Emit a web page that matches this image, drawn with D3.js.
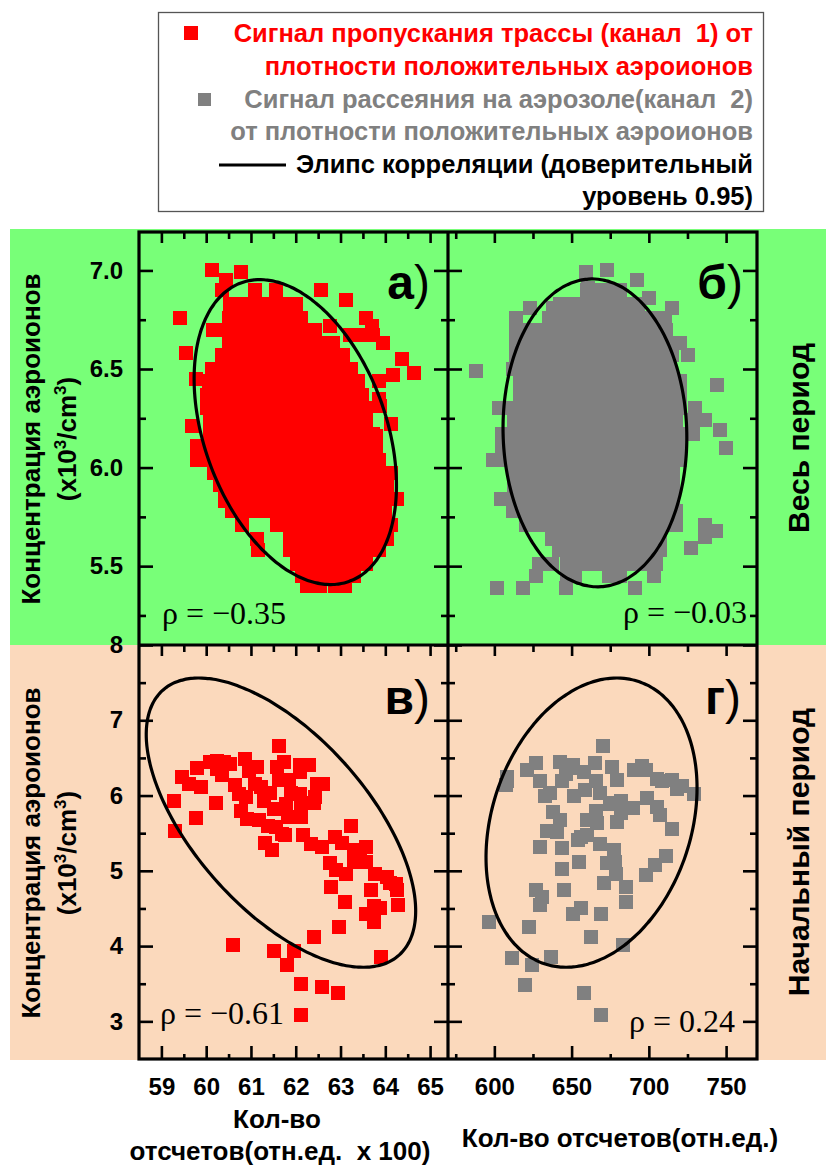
<!DOCTYPE html>
<html lang="ru">
<head>
<meta charset="UTF-8">
<title>Корреляция сигналов с плотностью аэроионов</title>
<script src="https://d3js.org/d3.v7.min.js"></script>
<style>
  body { margin: 0; background: #fff; }
  svg text { font-family: "Liberation Sans", Arial, sans-serif; }
  .rho { font-family: "Liberation Serif", "Times New Roman", serif; font-size: 32px; }
</style>
</head>
<body>
<svg id="chart" width="826" height="1167"></svg>
<script>
// ---- data ----
// panel а: dense cloud, each row = [y, x1, x2, ...]
const transAllRows = [
  [6.90, 61.10, 61.55],
  [6.83, 60.54, 60.83, 61.12, 61.41, 61.70, 62.01],
  [6.76, 60.51, 60.80, 61.10, 61.39, 61.68, 61.97, 62.12],
  [6.70, 60.16, 60.45, 60.74, 61.03, 61.32, 61.61, 61.90, 62.19, 62.44],
  [6.67, 63.22, 63.53, 63.73],
  [6.63, 60.51, 60.80, 61.10, 61.39, 61.68, 61.97, 62.26, 62.55, 62.84],
  [6.57, 60.36, 60.65, 60.94, 61.23, 61.52, 61.81, 62.10, 62.39, 62.68, 62.97, 63.06],
  [6.50, 60.13, 60.42, 60.71, 61.01, 61.30, 61.59, 61.88, 62.17, 62.46, 62.75, 63.04, 63.24],
  [6.44, 60.07, 60.36, 60.65, 60.94, 61.23, 61.52, 61.81, 62.10, 62.39, 62.68, 62.97, 63.27, 63.40],
  [6.37, 60.02, 60.31, 60.60, 60.89, 61.18, 61.48, 61.77, 62.06, 62.35, 62.64, 62.93, 63.22, 63.47],
  [6.30, 60.02, 60.31, 60.60, 60.89, 61.18, 61.48, 61.77, 62.06, 62.35, 62.64, 62.93, 63.22, 63.51, 63.56],
  [6.24, 60.09, 60.38, 60.67, 60.96, 61.25, 61.54, 61.83, 62.12, 62.41, 62.71, 63.00, 63.29, 63.58],
  [6.17, 60.09, 60.38, 60.67, 60.96, 61.25, 61.54, 61.83, 62.12, 62.41, 62.71, 63.00, 63.29, 63.58, 63.73],
  [6.11, 59.80, 60.09, 60.38, 60.67, 60.96, 61.25, 61.54, 61.83, 62.12, 62.41, 62.71, 63.00, 63.29, 63.58, 63.80],
  [6.04, 59.80, 60.09, 60.38, 60.67, 60.96, 61.25, 61.54, 61.83, 62.12, 62.41, 62.71, 63.00, 63.29, 63.58, 63.85],
  [5.97, 60.18, 60.47, 60.76, 61.05, 61.34, 61.63, 61.92, 62.21, 62.50, 62.80, 63.09, 63.38, 63.67, 63.96, 64.12],
  [5.91, 60.31, 60.60, 60.89, 61.18, 61.48, 61.77, 62.06, 62.35, 62.64, 62.93, 63.22, 63.51, 63.80, 64.03],
  [5.84, 60.42, 60.71, 61.01, 61.30, 61.59, 61.88, 62.17, 62.46, 62.75, 63.04, 63.33, 63.62, 63.91, 64.00],
  [5.78, 60.58, 60.87, 61.16, 61.45, 61.74, 62.03, 62.33, 62.62, 62.91, 63.20, 63.49, 63.78, 64.00],
  [5.71, 60.80, 61.59, 61.88, 62.17, 62.46, 62.75, 63.04, 63.33, 63.62, 63.91, 64.12],
  [5.64, 61.14, 61.88, 62.17, 62.46, 62.75, 63.04, 63.33, 63.62, 63.91, 64.03],
  [5.58, 61.16, 61.88, 62.17, 62.46, 62.75, 63.04, 63.33, 63.62, 63.85],
  [5.51, 62.03, 62.33, 62.62, 62.91, 63.20, 63.49, 63.58],
  [5.45, 62.15, 62.44, 62.73, 63.02, 63.29],
  [5.40, 62.26, 62.55, 62.88, 63.11]
];
const transAllOutliers = [
  [60.13, 7.00], [60.77, 6.99], [60.45, 6.95], [60.35, 6.90], [62.56, 6.90], [63.12, 6.85],
  [59.41, 6.76], [63.56, 6.76], [63.71, 6.72], [62.77, 6.72], [63.94, 6.63], [64.38, 6.55],
  [64.65, 6.48], [64.18, 6.47], [63.86, 6.44], [63.86, 6.35], [63.89, 6.31], [64.12, 6.22],
  [59.68, 6.21], [59.54, 6.58], [59.78, 6.45], [59.80, 6.09], [63.80, 6.16], [64.26, 5.84],
  [60.42, 5.83]
];

// panel б: dense cloud, each row = [y, x1, x2, ...]
const scatAllRows = [
  [6.90, 660.0, 668.4, 676.8, 680.0],
  [6.83, 642.5, 650.9, 659.3, 667.7, 676.1, 684.6, 693.0],
  [6.76, 614.0, 635.4, 643.8, 652.2, 660.6, 669.0, 677.4, 685.9, 694.3, 702.7, 704.6, 710.5],
  [6.70, 614.0, 622.4, 630.8, 639.3, 647.7, 656.1, 664.5, 672.9, 681.3, 689.7, 698.2, 706.6, 711.1],
  [6.63, 614.0, 622.4, 630.8, 639.3, 647.7, 656.1, 664.5, 672.9, 681.3, 689.7, 698.2, 706.6, 715.0, 720.2],
  [6.57, 614.0, 622.4, 630.8, 639.3, 647.7, 656.1, 664.5, 672.9, 681.3, 689.7, 698.2, 706.6, 715.0, 725.3],
  [6.50, 612.1, 620.5, 628.9, 637.3, 645.7, 654.1, 662.6, 671.0, 679.4, 687.8, 696.2, 704.6, 713.7],
  [6.44, 616.6, 625.0, 633.4, 641.8, 650.3, 658.7, 667.1, 675.5, 683.9, 692.3, 700.7, 709.2, 717.6, 720.2],
  [6.37, 616.6, 625.0, 633.4, 641.8, 650.3, 658.7, 667.1, 675.5, 683.9, 692.3, 700.7, 709.2, 717.6, 720.2],
  [6.30, 603.0, 611.4, 619.8, 628.3, 636.7, 645.1, 653.5, 661.9, 670.3, 678.7, 687.2, 695.6, 704.0, 712.4, 720.2, 729.9],
  [6.24, 612.7, 621.1, 629.5, 638.0, 646.4, 654.8, 663.2, 671.6, 680.0, 688.4, 696.9, 705.3, 713.7, 717.6, 728.6, 736.3],
  [6.17, 605.0, 613.4, 621.8, 630.2, 638.6, 647.0, 655.4, 663.9, 672.3, 680.7, 689.1, 697.5, 705.9, 714.3, 722.7, 728.6],
  [6.11, 605.0, 610.1, 618.5, 627.0, 635.4, 643.8, 652.2, 660.6, 669.0, 677.4, 685.9, 694.3, 702.7, 711.1, 720.2],
  [6.04, 599.1, 607.5, 616.0, 624.4, 632.8, 641.2, 649.6, 658.0, 666.4, 674.9, 683.3, 691.7, 700.1, 708.5, 716.9, 720.2],
  [5.97, 612.7, 621.1, 629.5, 638.0, 646.4, 654.8, 663.2, 671.6, 680.0, 688.4, 696.9, 705.3, 713.7, 715.6],
  [5.91, 612.7, 621.1, 629.5, 638.0, 646.4, 654.8, 663.2, 671.6, 680.0, 688.4, 696.9, 705.3, 713.7, 715.6],
  [5.84, 604.3, 612.7, 621.1, 629.5, 638.0, 646.4, 654.8, 663.2, 671.6, 680.0, 688.4, 696.9, 705.3, 713.7, 715.6],
  [5.78, 612.1, 620.5, 628.9, 637.3, 645.7, 654.1, 662.6, 671.0, 679.4, 687.8, 696.2, 704.6, 713.0, 717.6],
  [5.71, 620.5, 628.9, 637.3, 645.7, 654.1, 662.6, 671.0, 679.4, 687.8, 696.2, 704.6, 713.0, 717.6, 736.3],
  [5.64, 637.3, 645.7, 654.1, 662.6, 671.0, 679.4, 687.8, 696.2, 704.6, 707.2],
  [5.58, 641.8, 650.3, 658.7, 667.1, 675.5, 683.9, 692.3, 700.7, 707.2],
  [5.51, 628.9, 637.3, 647.0, 655.4, 663.9, 672.3, 680.7, 689.1, 697.5, 704.6],
  [5.45, 627.0, 647.0, 652.2, 674.2, 681.3, 703.3],
  [5.39, 601.7, 618.5, 646.4, 691.0]
];
const scatAllOutliers = [
  [659.3, 6.99], [672.9, 7.00], [692.3, 6.95], [660.6, 6.91], [681.3, 6.90], [700.1, 6.86],
  [715.0, 6.81], [623.1, 6.81], [638.0, 6.81], [588.1, 6.49], [744.1, 6.42], [749.9, 6.10],
  [746.0, 6.19], [743.5, 5.68], [736.3, 5.65], [727.3, 5.59]
];

// panel в: [x, y]
const transStartPoints = [
  [59.29, 5.93], [59.31, 5.53], [59.47, 6.25], [59.62, 6.16], [59.78, 5.70], [59.79, 6.36],
  [59.88, 6.11], [60.08, 6.44], [60.22, 5.90], [60.24, 6.46], [60.24, 6.35], [60.36, 6.27],
  [60.39, 6.45], [60.54, 6.42], [60.65, 6.14], [60.60, 4.01], [60.74, 6.02], [60.78, 5.80],
  [60.86, 6.48], [60.90, 5.98], [60.92, 5.69], [60.96, 6.33], [61.08, 6.16], [61.13, 6.38],
  [61.18, 5.68], [61.22, 6.11], [61.30, 5.93], [61.32, 5.37], [61.37, 5.60], [61.42, 6.03],
  [61.46, 5.28], [61.51, 3.93], [61.52, 5.82], [61.56, 5.58], [61.59, 6.38], [61.62, 6.66],
  [61.63, 6.20], [61.69, 5.49], [61.73, 6.45], [61.77, 5.47], [61.78, 5.89], [61.81, 3.75],
  [61.82, 5.72], [61.86, 6.20], [61.90, 6.04], [61.95, 3.93], [62.10, 6.02], [62.10, 6.31],
  [62.10, 6.40], [62.12, 5.72], [62.12, 5.87], [62.12, 3.49], [62.12, 3.09], [62.16, 5.48],
  [62.30, 6.40], [62.33, 5.36], [62.41, 5.90], [62.41, 4.12], [62.44, 5.98], [62.48, 6.16],
  [62.61, 6.16], [62.59, 5.32], [62.59, 3.46], [62.77, 5.11], [62.79, 4.79], [62.88, 5.45],
  [62.91, 5.01], [62.95, 3.38], [62.97, 4.26], [63.04, 5.37], [63.11, 4.59], [63.13, 4.96],
  [63.23, 5.60], [63.29, 5.28], [63.31, 5.12], [63.44, 5.15], [63.58, 5.32], [63.58, 5.12],
  [63.58, 4.43], [63.68, 4.75], [63.74, 4.53], [63.75, 4.32], [63.76, 4.96], [63.89, 4.51],
  [63.91, 3.86], [64.04, 4.92], [64.11, 4.84], [64.24, 4.83], [64.26, 4.75], [64.29, 4.54]
];

// panel г: [x, y]
const scatStartPoints = [
  [670.5, 6.66], [608.2, 6.25], [607.5, 6.14], [608.0, 6.19], [621.1, 6.34], [626.8, 6.43],
  [629.8, 6.19], [633.0, 6.00], [642.5, 6.45], [646.2, 6.29], [650.9, 6.40], [651.1, 6.36],
  [658.0, 6.31], [665.1, 6.43], [676.0, 6.38], [679.4, 6.20], [690.4, 6.34], [695.4, 6.39],
  [698.0, 6.34], [705.5, 6.22], [708.3, 6.19], [714.8, 6.20], [718.0, 6.09], [721.3, 6.13],
  [729.2, 6.02], [705.5, 5.85], [707.2, 5.74], [715.0, 5.56], [698.8, 5.97], [681.8, 5.93],
  [674.8, 5.89], [677.4, 5.90], [690.0, 5.83], [681.8, 5.77], [665.6, 5.80], [660.0, 5.67],
  [666.2, 5.63], [679.6, 5.65], [634.3, 5.53], [629.8, 5.32], [643.8, 5.30], [653.9, 5.41],
  [655.9, 5.45], [659.8, 5.47], [668.4, 5.36], [677.4, 5.27], [672.7, 5.11], [678.1, 5.12],
  [654.6, 5.12], [643.6, 5.03], [678.5, 4.96], [670.8, 4.84], [685.2, 4.79], [698.3, 4.95],
  [704.0, 5.08], [711.1, 5.20], [627.2, 4.75], [630.7, 4.65], [629.4, 4.54], [645.1, 4.75],
  [650.7, 4.42], [655.9, 4.50], [669.0, 4.43], [685.2, 4.58], [596.3, 4.32], [622.2, 4.26],
  [662.6, 4.12], [683.3, 4.01], [636.4, 3.86], [611.4, 3.84], [624.4, 3.75], [620.0, 3.48],
  [658.0, 3.38], [669.0, 3.09], [643.6, 6.19], [651.6, 5.99], [658.7, 6.07], [665.6, 6.19],
  [668.4, 6.03], [636.0, 6.03], [638.2, 5.78], [642.5, 5.68], [640.8, 5.52]
];

// ellipse parameters per panel: [mean x, mean y, sd x, sd y, correlation]
const ellipseParams = [
  [61.99, 6.18, 0.923, 0.316, -0.35],
  [665.1, 6.176, 24.3, 0.319, -0.03],
  [61.67, 5.64, 1.229, 0.785, -0.61],
  [662.9, 5.64, 27.9, 0.785, 0.24]
];
const rhoValues = [-0.35, -0.03, -0.61, 0.24];
const panelLetters = ["а", "б", "в", "г"];
const periodLabels = ["Весь период", "Начальный период"];

const ticksCountsMajor = [59, 60, 61, 62, 63, 64, 65];
const ticksCountsMinor = [59.5, 60.5, 61.5, 62.5, 63.5, 64.5];
const ticksScatMajor = [600, 650, 700, 750];
const ticksScatMinor = [575, 625, 675, 725];
const ticksConcAllMajor = [5.5, 6.0, 6.5, 7.0];
const ticksConcAllMinor = [5.25, 5.75, 6.25, 6.75];
const ticksConcStartMajor = [3, 4, 5, 6, 7, 8];
const ticksConcStartMinor = [3.5, 4.5, 5.5, 6.5, 7.5];

const legendLines = [
  ["Сигнал пропускания трассы (канал\u00A0 1) от", "#ff0000"],
  ["плотности положительных аэроионов", "#ff0000"],
  ["Сигнал рассеяния на аэрозоле(канал\u00A0 2)", "#808080"],
  ["от плотности положительных аэроионов", "#808080"],
  ["Элипс корреляции (доверительный", "#000"],
  ["уровень 0.95)", "#000"]
];

// ---- drawing ----
const svg = d3.select("#chart");
const RED = "#ff0000", GRAY = "#808080";

const xCounts = d3.scaleLinear().domain([58.5, 65.4]).range([139, 448]);
const xScat = d3.scaleLinear().domain([570, 770]).range([448, 757]);
const yAll = d3.scaleLinear().domain([5.1, 7.2]).range([645, 231]);
const yStart = d3.scaleLinear().domain([2.5, 8]).range([1059, 645]);

// background bands
svg.append("rect").attr("x", 10).attr("y", 229).attr("width", 816).attr("height", 416).attr("fill", "#78ff78");
svg.append("rect").attr("x", 10).attr("y", 645).attr("width", 816).attr("height", 415).attr("fill", "#fbd9bc");

const rowsToPoints = rows => rows.flatMap(r => r.slice(1).map(x => [x, r[0]]));

const panels = [
  { x: xCounts, y: yAll, color: RED, pts: rowsToPoints(transAllRows).concat(transAllOutliers),
    letterX: 430, letterY: 299, rhoX: 162, rhoY: 624, rhoAnchor: "start" },
  { x: xScat, y: yAll, color: GRAY, pts: rowsToPoints(scatAllRows).concat(scatAllOutliers),
    letterX: 743, letterY: 299, rhoX: 747, rhoY: 623, rhoAnchor: "end" },
  { x: xCounts, y: yStart, color: RED, pts: transStartPoints,
    letterX: 430, letterY: 714, rhoX: 160, rhoY: 1024, rhoAnchor: "start" },
  { x: xScat, y: yStart, color: GRAY, pts: scatStartPoints,
    letterX: 741, letterY: 714, rhoX: 735, rhoY: 1032, rhoAnchor: "end" }
];

const K95 = Math.sqrt(5.991);
function ellipsePoints(p) {
  const [cx, cy, sx, sy, r] = p;
  return d3.range(0, 360, 2).map(a => {
    const t = a * Math.PI / 180;
    return [cx + K95 * sx * Math.cos(t),
            cy + K95 * sy * (r * Math.cos(t) + Math.sqrt(1 - r * r) * Math.sin(t))];
  });
}

const defs = svg.append("defs");
panels.forEach((p, i) => {
  const [x0, x1] = p.x.range(), [y1, y0] = p.y.range();
  defs.append("clipPath").attr("id", "clip" + i)
    .append("rect").attr("x", x0).attr("y", y0).attr("width", x1 - x0).attr("height", y1 - y0);

  const g = svg.append("g").attr("clip-path", `url(#clip${i})`);
  g.selectAll("rect").data(p.pts).join("rect")
    .attr("x", d => p.x(d[0]) - 7)
    .attr("y", d => p.y(d[1]) - 7)
    .attr("width", 14).attr("height", 14)
    .attr("fill", p.color)
    .attr("shape-rendering", "crispEdges");

  const line = d3.line().x(d => p.x(d[0])).y(d => p.y(d[1])).curve(d3.curveCardinalClosed);
  g.append("path").attr("d", line(ellipsePoints(ellipseParams[i])))
    .attr("fill", "none").attr("stroke", "#000").attr("stroke-width", 3.2);
});

// ticks
function addAxis(gen, scale, values, size, tx, ty, fmt, pad) {
  const g = svg.append("g").attr("transform", `translate(${tx},${ty})`)
    .call(gen(scale).tickValues(values).tickSize(size).tickPadding(pad || 3)
      .tickFormat(fmt || (() => "")));
  g.select(".domain").remove();
  g.selectAll(".tick line").attr("stroke", "#000").attr("stroke-width", 2.6);
  g.attr("font-family", "'Liberation Sans', Arial, sans-serif")
    .attr("font-size", 24).attr("font-weight", "bold");
  g.selectAll(".tick text").attr("fill", "#000");
  return g;
}
const f1 = d3.format(".1f"), f0 = d3.format("d");

// panel а
addAxis(d3.axisLeft, yAll, ticksConcAllMajor, -14, 139, 0, f1, 16);
addAxis(d3.axisLeft, yAll, ticksConcAllMinor, -7, 139, 0);
addAxis(d3.axisTop, xCounts, ticksCountsMajor, -11, 0, 232);
addAxis(d3.axisTop, xCounts, ticksCountsMinor, -7, 0, 232);
addAxis(d3.axisRight, yAll, ticksConcAllMajor, -14, 448, 0);
addAxis(d3.axisRight, yAll, ticksConcAllMinor, -7, 448, 0);
// panel б
addAxis(d3.axisLeft, yAll, ticksConcAllMajor, -14, 448, 0);
addAxis(d3.axisLeft, yAll, ticksConcAllMinor, -7, 448, 0);
addAxis(d3.axisTop, xScat, ticksScatMajor, -11, 0, 232);
addAxis(d3.axisTop, xScat, ticksScatMinor, -7, 0, 232);
addAxis(d3.axisRight, yAll, ticksConcAllMajor, -14, 757, 0);
addAxis(d3.axisRight, yAll, ticksConcAllMinor, -7, 757, 0);
// panel в
addAxis(d3.axisLeft, yStart, ticksConcStartMajor, -14, 139, 0, f0, 16);
addAxis(d3.axisLeft, yStart, ticksConcStartMinor, -7, 139, 0);
addAxis(d3.axisTop, xCounts, ticksCountsMajor, -11, 0, 645);
addAxis(d3.axisTop, xCounts, ticksCountsMinor, -7, 0, 645);
addAxis(d3.axisRight, yStart, ticksConcStartMajor, -14, 448, 0);
addAxis(d3.axisRight, yStart, ticksConcStartMinor, -7, 448, 0);
addAxis(d3.axisBottom, xCounts, ticksCountsMajor, -13, 0, 1059, f0, 19);
addAxis(d3.axisBottom, xCounts, ticksCountsMinor, -5, 0, 1059);
// panel г
addAxis(d3.axisLeft, yStart, ticksConcStartMajor, -14, 448, 0);
addAxis(d3.axisLeft, yStart, ticksConcStartMinor, -7, 448, 0);
addAxis(d3.axisTop, xScat, ticksScatMajor, -11, 0, 645);
addAxis(d3.axisTop, xScat, ticksScatMinor, -7, 0, 645);
addAxis(d3.axisRight, yStart, ticksConcStartMajor, -14, 757, 0);
addAxis(d3.axisRight, yStart, ticksConcStartMinor, -7, 757, 0);
addAxis(d3.axisBottom, xScat, ticksScatMajor, -13, 0, 1059, f0, 19);
addAxis(d3.axisBottom, xScat, ticksScatMinor, -5, 0, 1059);

// frames
const frame = svg.append("g").attr("fill", "none").attr("stroke", "#000").attr("stroke-width", 3.2);
frame.append("rect").attr("x", 139).attr("y", 232).attr("width", 618).attr("height", 827);
frame.append("line").attr("x1", 448).attr("x2", 448).attr("y1", 232).attr("y2", 1059);
frame.append("line").attr("x1", 139).attr("x2", 757).attr("y1", 645).attr("y2", 645);

// panel letters and correlation labels
panels.forEach((p, i) => {
  const t = svg.append("text").attr("x", p.letterX).attr("y", p.letterY)
    .attr("text-anchor", "end").attr("font-size", 48);
  t.append("tspan").attr("font-weight", "bold").text(panelLetters[i]);
  t.append("tspan").attr("font-weight", "normal").text(")");

  const v = rhoValues[i];
  svg.append("text").attr("class", "rho").attr("x", p.rhoX).attr("y", p.rhoY)
    .attr("text-anchor", p.rhoAnchor)
    .text("ρ = " + (v < 0 ? "−" : "") + Math.abs(v).toFixed(2));
});

// axis titles
[439, 853].forEach(cy => {
  svg.append("text").attr("transform", `translate(40,${cy}) rotate(-90)`)
    .attr("text-anchor", "middle").attr("font-size", 26).attr("font-weight", "bold")
    .text("Концентрация аэроионов");
  const u = svg.append("text").attr("transform", `translate(76,${cy}) rotate(-90)`)
    .attr("text-anchor", "middle").attr("font-size", 26).attr("font-weight", "bold");
  u.append("tspan").text("(x10");
  u.append("tspan").attr("dy", -10).attr("font-size", 17).text("3");
  u.append("tspan").attr("dy", 10).text("/cm");
  u.append("tspan").attr("dy", -10).attr("font-size", 17).text("3");
  u.append("tspan").attr("dy", 10).text(")");
});
[438, 852].forEach((cy, i) => {
  svg.append("text").attr("transform", `translate(809,${cy}) rotate(-90)`)
    .attr("text-anchor", "middle").attr("font-size", 30).attr("font-weight", "bold")
    .text(periodLabels[i]);
});

const xTitle = svg.append("g").attr("font-size", 26).attr("font-weight", "bold")
  .attr("text-anchor", "middle");
xTitle.append("text").attr("x", 277).attr("y", 1128).text("Кол-во");
xTitle.append("text").attr("x", 280).attr("y", 1160).text("отсчетов(отн.ед.\u00A0 x 100)");
xTitle.append("text").attr("x", 620).attr("y", 1147).text("Кол-во отсчетов(отн.ед.)");

// legend
const lg = svg.append("g");
lg.append("rect").attr("x", 158.5).attr("y", 12.5).attr("width", 605).attr("height", 199)
  .attr("fill", "#fff").attr("stroke", "#555").attr("stroke-width", 1.3);
lg.append("rect").attr("x", 184).attr("y", 26).attr("width", 14).attr("height", 14).attr("fill", RED);
lg.append("rect").attr("x", 198).attr("y", 93).attr("width", 13).attr("height", 13).attr("fill", GRAY);
lg.append("line").attr("x1", 219).attr("x2", 286).attr("y1", 165).attr("y2", 165)
  .attr("stroke", "#000").attr("stroke-width", 3);
const legendY = [42, 75, 108, 140, 173, 205];
lg.selectAll("text.lg").data(legendLines).join("text").attr("class", "lg")
  .attr("x", 753).attr("y", (d, i) => legendY[i])
  .attr("text-anchor", "end").attr("font-size", 25.5).attr("font-weight", "bold")
  .attr("fill", d => d[1]).text(d => d[0]);
</script>
</body>
</html>
